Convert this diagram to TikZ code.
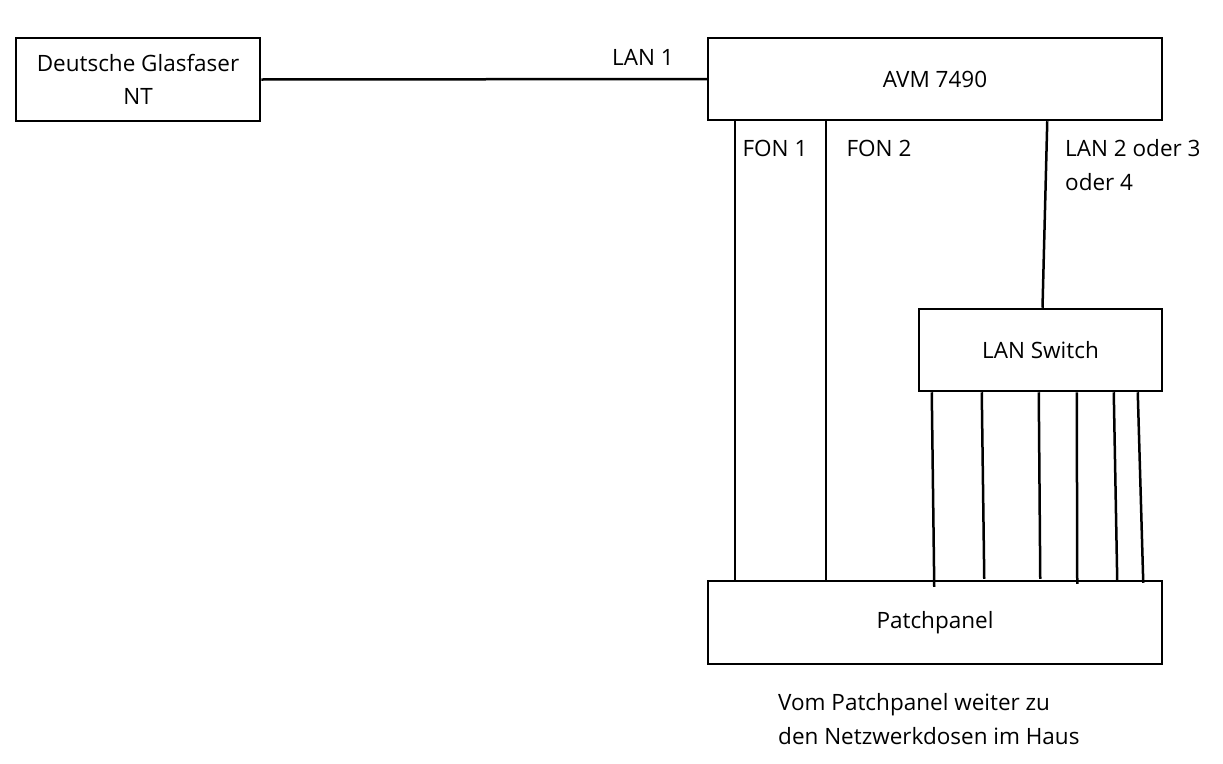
\documentclass[tikz,border=0pt]{standalone}
\usepackage{fontspec}
\setmainfont{Open Sans}
\usetikzlibrary{positioning,calc}

\begin{document}
\begin{tikzpicture}[
    x=1pt,y=-1pt,
    every node/.style={font=\fontsize{22.5}{33.5}\selectfont},
    device/.style={draw,line width=2.5pt,inner sep=0pt,align=center},
    label/.style={inner sep=0pt,align=left},
    cable/.style={line width=2.5pt}
  ]
  \useasboundingbox (0,0) rectangle (1223,763);
  % boxes
  \node[device,minimum width=244pt,minimum height=83pt] (nt) at (138,79.5) {Deutsche Glasfaser\\NT};
  \node[device,minimum width=454pt,minimum height=82pt] (avm) at (935,79) {AVM 7490};
  \node[device,minimum width=243pt,minimum height=82pt] (switch) at (1040.5,350) {LAN Switch};
  \node[device,minimum width=454pt,minimum height=83pt] (patch) at (935,622.5) {Patchpanel};
  % labels
  \node[label] (lan1) at (643,57) {LAN 1};
  \node[label] (fon1) at (775,148) {FON 1};
  \node[label] (fon2) at (879,148) {FON 2};
  \node[label,anchor=west] (lanx) at (1065,165) {LAN 2 oder 3\\oder 4};
  \node[label,anchor=west] (note) at (778,719) {Vom Patchpanel weiter zu\\den Netzwerkdosen im Haus};
  % cables
  \draw[cable] (nt.east) -- (avm.west);
  \draw[cable] ([xshift=28pt]avm.south west) -- ([xshift=28pt]patch.north west);
  \draw[cable] ([xshift=119pt]avm.south west) -- ([xshift=119pt]patch.north west);
  \draw[cable] ([xshift=-116pt]avm.south east) -- ([xshift=2pt]switch.north);
  \foreach \a/\b/\d in {14/14/7, 64/64/-1, 121/120/-1, 159/157/4, 196/197/2, 220/223/3}
    \draw[cable] ([xshift=\a pt]switch.south west) -- ([xshift=\b pt-243pt,yshift=-\d pt]patch.north east);
\end{tikzpicture}
\end{document}
